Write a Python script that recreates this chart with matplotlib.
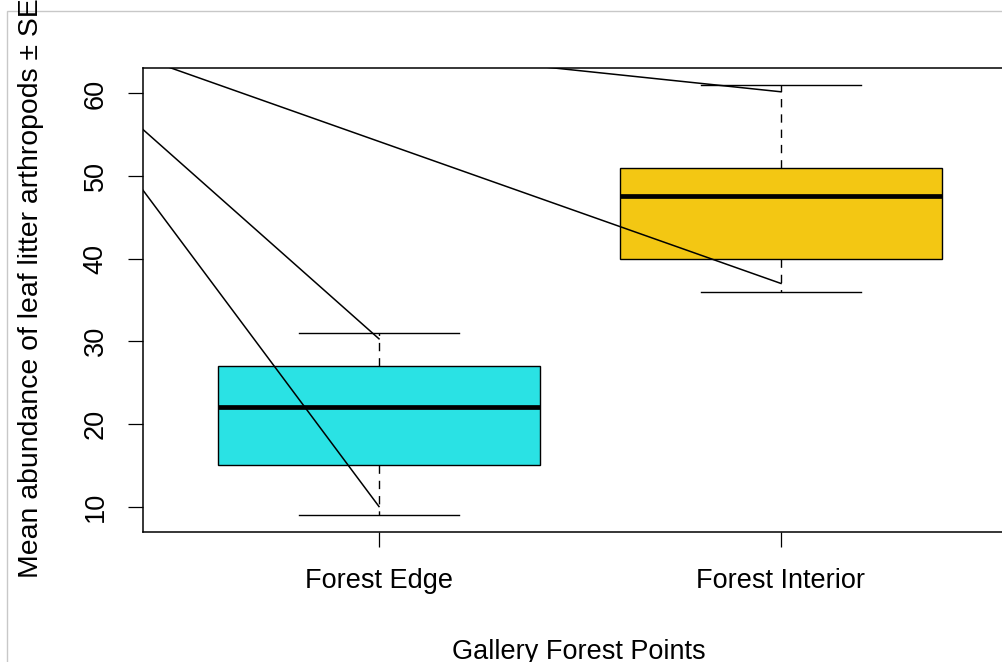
import matplotlib
matplotlib.use("Agg")
import matplotlib.pyplot as plt
from matplotlib.patches import Rectangle

# Group labels and box statistics
groups = ["Forest Edge", "Forest Interior"]
q1 = [15.0, 40.0]
medians = [22.0, 47.6]
q3 = [27.0, 51.0]
whisker_low = [9.0, 36.0]
whisker_high = [31.0, 61.0]

# Mean +/- SE end points and the shared start point of the SE segments
se_low = [10.0, 37.0]
se_high = [30.3, 60.2]
seg_start_x = 0.08
seg_start_y = 70.0

yticks = [10, 20, 30, 40, 50, 60]
box_colors = ["#2AE2E4", "#F3C713"]

plt.rcParams["font.family"] = ["Liberation Sans", "DejaVu Sans"]

W, H = 1003, 662
fig = plt.figure(figsize=(W / 100, H / 100), dpi=100)

# light grey frame around the device region
fig.add_artist(Rectangle((7 / W, -0.1), 1.2, 1 - 11 / H + 0.1,
                         transform=fig.transFigure, fill=False,
                         edgecolor="#C8C8C8", linewidth=1.0))

px_per_x = 402.0
left_px = 143.5
xlim = (1 - (379 - left_px) / px_per_x, 2.58)
ax_w = (xlim[1] - xlim[0]) * px_per_x
ax = fig.add_axes([left_px / W, (H - 532) / H, ax_w / W, (532 - 68) / H])
ax.set_xlim(*xlim)
ax.set_ylim(6.92, 63.08)

stats = []
for i, g in enumerate(groups):
    stats.append(dict(label=g, q1=q1[i], med=medians[i], q3=q3[i],
                      whislo=whisker_low[i], whishi=whisker_high[i], fliers=[]))

bp = ax.bxp(stats, positions=[1, 2], widths=0.8, capwidths=0.4,
            patch_artist=True, showfliers=False,
            boxprops=dict(linewidth=1.0, edgecolor="black"),
            medianprops=dict(color="black", linewidth=3.4, solid_capstyle="butt"),
            whiskerprops=dict(color="black", linewidth=1.0, linestyle=(0, (6, 5))),
            capprops=dict(color="black", linewidth=1.0))
for patch, c in zip(bp["boxes"], box_colors):
    patch.set_facecolor(c)

# SE segments
for i in range(len(groups)):
    for yv in (se_low[i], se_high[i]):
        ax.plot([seg_start_x, i + 1], [seg_start_y, yv], color="black",
                linewidth=1.1, clip_on=True)

for s in ax.spines.values():
    s.set_linewidth(1.1)

ax.set_xticks([1, 2])
ax.set_xticklabels(groups)
ax.set_yticks(yticks)
ax.set_yticklabels([str(v) for v in yticks], rotation=90, va="center")
ax.tick_params(axis="both", length=11, width=0.9, labelsize=19.5, color="black")
ax.tick_params(axis="x", pad=15)
ax.tick_params(axis="y", pad=14)

fig.text(31 / W, (H - 578) / H, "Mean abundance of leaf litter arthropods \u00b1 SE",
         rotation=90, rotation_mode="anchor", ha="left", va="center", fontsize=20.4)
fig.text(579 / W, (H - 659) / H, "Gallery Forest Points", ha="center",
         va="baseline", fontsize=19.5)

fig.savefig("out.png", dpi=100)
